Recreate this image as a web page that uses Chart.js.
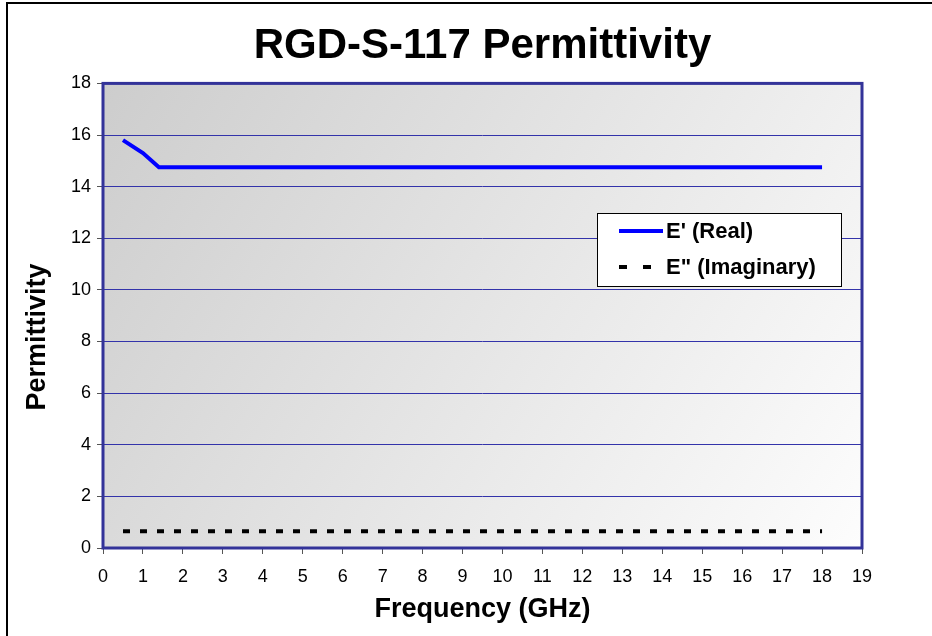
<!DOCTYPE html>
<html>
<head>
<meta charset="utf-8">
<title>RGD-S-117 Permittivity</title>
<script src="https://cdn.jsdelivr.net/npm/chart.js@4.4.1/dist/chart.umd.min.js"></script>
<style>
  html, body { margin: 0; padding: 0; background: #fff; }
  #wrap { width: 932px; height: 636px; }
</style>
</head>
<body>
<div id="wrap"><canvas id="permChart" width="932" height="636"></canvas></div>
<script>
// frequency points (GHz)
const frequencies = [0.5, 1, 1.4, 2, 3, 4, 5, 6, 7, 8, 9, 10, 11, 12, 13, 14, 15, 16, 17, 18];
// E' (real part)
const realValues = [15.8, 15.3, 14.75, 14.75, 14.75, 14.75, 14.75, 14.75, 14.75, 14.75,
  14.75, 14.75, 14.75, 14.75, 14.75, 14.75, 14.75, 14.75, 14.75, 14.75];
// E'' (imaginary part)
const imagValues = [0.65, 0.65, 0.65, 0.65, 0.65, 0.65, 0.65, 0.65, 0.65, 0.65,
  0.65, 0.65, 0.65, 0.65, 0.65, 0.65, 0.65, 0.65, 0.65, 0.65];
const seriesNames = ["E' (Real)", 'E" (Imaginary)'];

const FONT = 'Arial, "Liberation Sans", sans-serif';

function toPoints(xs, ys) {
  return xs.map((x, i) => ({ x: x, y: ys[i] }));
}

// gradient plot background, plot frame, outer border, y title, legend box
const excelLook = {
  id: 'excelLook',
  beforeDraw(chart) {
    const { ctx, chartArea: a } = chart;
    ctx.save();
    ctx.fillStyle = '#fff';
    ctx.fillRect(0, 0, chart.width, chart.height);
    const g = ctx.createLinearGradient(a.left, a.top, a.right, a.bottom);
    g.addColorStop(0, '#cdcdcd');
    g.addColorStop(1, '#fdfdfd');
    ctx.fillStyle = g;
    ctx.fillRect(a.left, a.top, a.right - a.left, a.bottom - a.top);
    // outer chart border
    ctx.strokeStyle = '#000';
    ctx.lineWidth = 2;
    ctx.strokeRect(7, 3, 940, 650);
    ctx.restore();
  },
  beforeDatasetsDraw(chart) {
    const { ctx, chartArea: a } = chart;
    ctx.save();
    ctx.strokeStyle = '#333399';
    ctx.lineWidth = 3;
    ctx.strokeRect(a.left, a.top, a.right - a.left, a.bottom - a.top);
    ctx.restore();
  },
  afterDraw(chart) {
    const { ctx } = chart;
    ctx.save();
    // y axis title
    ctx.translate(38, 337);
    ctx.rotate(-Math.PI / 2);
    ctx.font = 'bold 27px ' + FONT;
    ctx.fillStyle = '#000';
    ctx.textAlign = 'center';
    ctx.textBaseline = 'middle';
    ctx.fillText('Permittivity', 0, 0);
    ctx.restore();

    // legend
    const bx = 597, by = 213, bw = 244, bh = 73;
    ctx.save();
    ctx.fillStyle = '#fff';
    ctx.fillRect(bx, by, bw, bh);
    ctx.strokeStyle = '#000';
    ctx.lineWidth = 1;
    ctx.strokeRect(bx + 0.5, by + 0.5, bw, bh);
    chart.data.datasets.forEach((ds, i) => {
      const y = by + 18 + i * 36;
      ctx.beginPath();
      ctx.strokeStyle = ds.borderColor;
      ctx.lineWidth = ds.borderWidth;
      ctx.setLineDash(ds.borderDash ? [8, 16] : []);
      ctx.moveTo(619, y);
      ctx.lineTo(663, y);
      ctx.stroke();
      ctx.setLineDash([]);
      ctx.fillStyle = '#000';
      ctx.font = 'bold 22px ' + FONT;
      ctx.textBaseline = 'middle';
      ctx.textAlign = 'left';
      ctx.fillText(ds.label, 666, y + 1);
    });
    ctx.restore();
  }
};

new Chart(document.getElementById('permChart'), {
  type: 'line',
  data: {
    datasets: [
      {
        label: seriesNames[0],
        data: toPoints(frequencies, realValues),
        borderColor: '#0000ff',
        borderWidth: 4,
        pointRadius: 0,
        tension: 0,
        fill: false,
      },
      {
        label: seriesNames[1],
        data: toPoints(frequencies, imagValues),
        borderColor: '#000000',
        borderWidth: 4,
        borderDash: [7, 10],
        pointRadius: 0,
        tension: 0,
        fill: false,
      },
    ],
  },
  options: {
    responsive: false,
    animation: false,
    events: [],
    layout: { padding: { left: 10, right: 70, top: 0, bottom: 10 } },
    plugins: {
      legend: { display: false },
      tooltip: { enabled: false },
      title: {
        display: true,
        fullSize: false,
        text: 'RGD-S-117 Permittivity',
        color: '#000',
        font: { family: FONT, size: 42, weight: 'bold' },
        padding: { top: 21, bottom: 12 },
      },
    },
    scales: {
      x: {
        type: 'linear',
        min: 0,
        max: 19,
        afterFit(scale) { scale.height = 78; },
        ticks: {
          stepSize: 1,
          color: '#000',
          padding: 12,
          maxRotation: 0,
          font: { family: FONT, size: 18 },
        },
        grid: {
          drawOnChartArea: false,
          drawTicks: true,
          tickLength: 6,
          tickColor: '#555',
        },
        border: { display: false },
        title: {
          display: true,
          text: 'Frequency (GHz)',
          color: '#000',
          font: { family: FONT, size: 27, weight: 'bold' },
          padding: { top: 5, bottom: 0 },
        },
      },
      y: {
        min: 0,
        max: 18,
        afterFit(scale) { scale.width = 93; },
        ticks: {
          stepSize: 2,
          color: '#000',
          padding: 6,
          font: { family: FONT, size: 18 },
        },
        grid: {
          color: '#3333aa',
          lineWidth: 1,
          tickLength: 6,
          tickColor: '#555',
        },
        border: { display: false },
      },
    },
  },
  plugins: [excelLook],
});
</script>
</body>
</html>
